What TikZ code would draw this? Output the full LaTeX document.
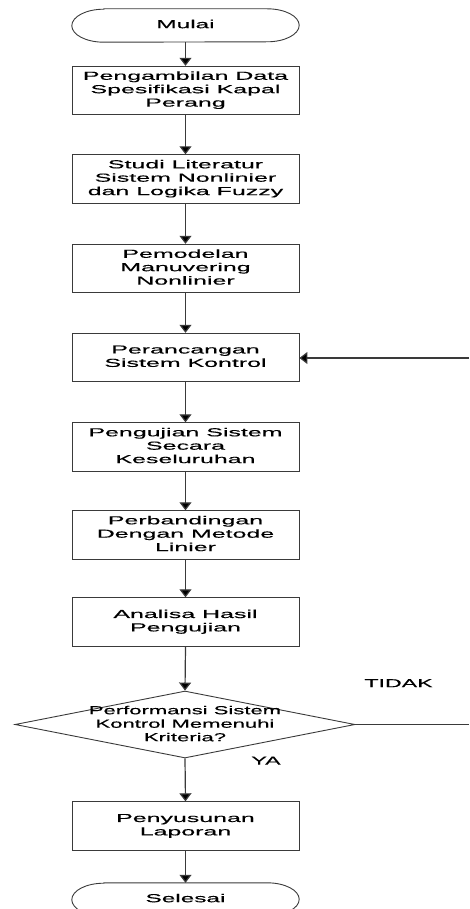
\documentclass[tikz,border=0pt]{standalone}
\usepackage{fontspec}
\usetikzlibrary{arrows.meta,shapes.geometric}
\newfontfamily\boxfont{Liberation Sans}[FakeBold=0.25]
\newcommand\wbox[2]{\scalebox{#1}[1]{\begin{tabular}{@{}c@{}}#2\end{tabular}}}
\definecolor{ln}{HTML}{3A3A3A}
\tikzset{
  stepbox/.style={draw=ln,line width=0.9pt,rectangle,minimum width=227pt,minimum height=48.5pt,inner sep=0pt,
    font=\boxfont\fontsize{11.6}{13.4}\selectfont,text=black},
  termbox/.style={draw=none,rectangle,minimum width=227pt,minimum height=33pt,inner sep=0pt,
    font=\boxfont\fontsize{11.6}{13.4}\selectfont,text=black},
  diabox/.style={draw=ln,line width=0.9pt,shape=diamond,minimum width=340pt,minimum height=67pt,inner sep=0pt},
  diatext/.style={inner sep=0pt,font=\boxfont\fontsize{11.6}{13.5}\selectfont,text=black},
  lbl/.style={inner sep=0pt,font=\boxfont\fontsize{11.6}{13.4}\selectfont,text=black},
  conn/.style={draw=ln,line width=1.2pt,-{Triangle[width=12pt,length=8pt,fill=black]}},
  plain/.style={draw=ln,line width=1pt},
  termline/.style={draw=ln,line width=0.9pt}
}
\begin{document}
\begin{tikzpicture}[x=1pt,y=1pt]
\useasboundingbox (0,0) rectangle (469,-909);
\node[termbox] (mulai) at (185.5,-25.5) {\wbox{2.1}{Mulai}};
\node[stepbox] (b1) at (185.5,-90.5) {\wbox{2.15}{Pengambilan Data\\Spesifikasi Kapal\\Perang}};
\node[stepbox] (b2) at (185.5,-179) {\wbox{2.15}{Studi Literatur\\Sistem Nonlinier\\dan Logika Fuzzy}};
\node[stepbox] (b3) at (185.5,-268.5) {\wbox{2.15}{Pemodelan\\Manuvering\\Nonlinier}};
\node[stepbox] (b4) at (185.5,-357.5) {\wbox{2.15}{Perancangan\\Sistem Kontrol}};
\node[stepbox] (b5) at (185.5,-447) {\wbox{2.15}{Pengujian Sistem\\Secara\\Keseluruhan}};
\node[stepbox] (b6) at (185.5,-535) {\wbox{2.15}{Perbandingan\\Dengan Metode\\Linier}};
\node[stepbox] (b7) at (185.5,-622) {\wbox{2.15}{Analisa Hasil\\Pengujian}};
\node[diabox] (dia) at (185,-724.5) {};
\node[diatext] (diat) at (185,-725) {\wbox{1.9}{Performansi Sistem\\Kontrol Memenuhi\\Kriteria?}};
\node[stepbox] (b8) at (185.5,-826) {\wbox{2.15}{Penyusunan\\Laporan}};
\node[termbox] (selesai) at (185.5,-899.5) {\wbox{2.1}{Selesai}};
\node[lbl] (tidak) at (398.5,-684.5) {\wbox{2.0}{TIDAK}};
\node[lbl] (ya) at (266,-762) {\wbox{2.0}{YA}};
\coordinate (r1) at (469,-724.5);
\coordinate (r2) at (469,-358);
% terminators
\foreach \t in {mulai,selesai}{
  \draw[termline] ([xshift=32pt]\t.north west) -- ([xshift=-32pt]\t.north east)
    arc[start angle=90,end angle=-90,x radius=32pt,y radius=16.5pt]
    -- ([xshift=32pt]\t.south west)
    arc[start angle=270,end angle=90,x radius=32pt,y radius=16.5pt] -- cycle;
}
% connectors
\draw[conn] (mulai.south) -- (b1.north);
\draw[conn] (b1.south) -- (b2.north);
\draw[conn] (b2.south) -- (b3.north);
\draw[conn] (b3.south) -- (b4.north);
\draw[conn] (b4.south) -- (b5.north);
\draw[conn] (b5.south) -- (b6.north);
\draw[conn] (b6.south) -- (b7.north);
\draw[conn] (b7.south) -- (dia.north);
\draw[conn] (dia.south) -- (b8.north);
\draw[conn] (b8.south) -- (selesai.north);
\draw[plain] (dia.east) -- (r1);
\draw[conn] (r2) -- (r2 -| b4.east);
\end{tikzpicture}
\end{document}
